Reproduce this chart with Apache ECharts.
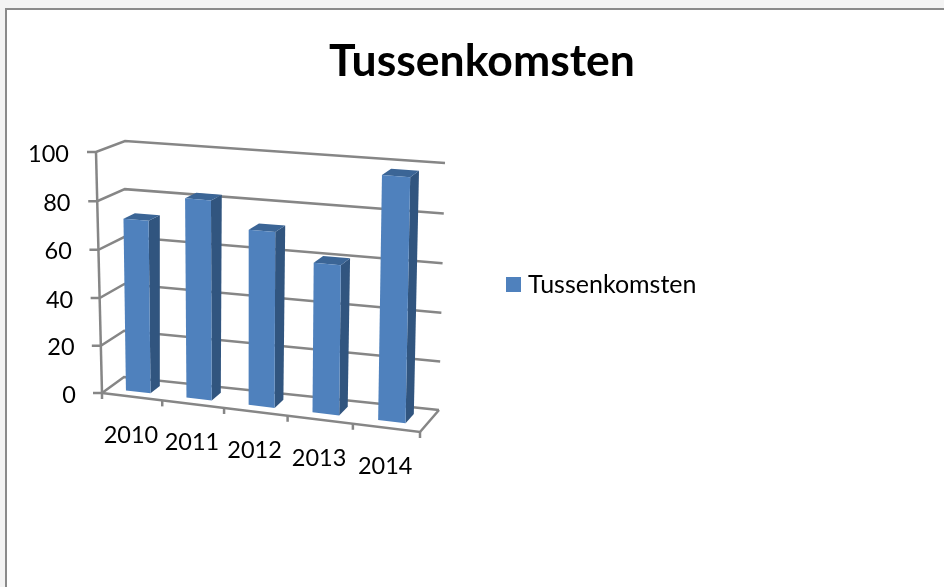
<!DOCTYPE html>
<html lang="en">
<head>
    <meta charset="UTF-8">
    <title>Tussenkomsten</title>
    <script src="https://cdn.jsdelivr.net/npm/echarts@6/dist/echarts.min.js"></script>
    <style>
        html, body { margin: 0; padding: 0; background: #fff; }
        #box { width: 944px; height: 587px; }
    </style>
</head>
<body>
    <div id="box"></div>
<script>
    var years = ['2010', '2011', '2012', '2013', '2014'];
    var values = [72, 82.5, 72, 61, 98];
    var yTicks = [0, 20, 40, 60, 80, 100];
    var seriesName = 'Tussenkomsten';

    var font = 'Lato, "Open Sans", sans-serif';
    var lineColor = '#868686';

    // corners of the fake 3D box: F = front, B = back, L/R = left/right, 0/1 = bottom/top
    var box = {
        F0L: [102, 393], F0R: [420, 432], F1L: [96, 152], F1R: [425, 178],
        B0L: [124, 377], B0R: [439, 410], B1L: [125, 141], B1R: [445, 163]
    };

    function mix(a, b, t) {
        return [a[0] + (b[0] - a[0]) * t, a[1] + (b[1] - a[1]) * t];
    }
    // things get bigger to the right and to the top in the original
    function persp(t, k) {
        return t / (k + (1 - k) * t);
    }
    // u along the years, v up the values, d front to back (all 0..1)
    function project(u, v, d) {
        var pu = persp(u, 1.07), pv = persp(v, 1.025);
        var f = mix(mix(box.F0L, box.F0R, pu), mix(box.F1L, box.F1R, pu), pv);
        var b = mix(mix(box.B0L, box.B0R, pu), mix(box.B1L, box.B1R, pu), pv);
        return mix(f, b, d);
    }
    // pixel from the axes -> u, v inside the grid
    function toUV(pt, cs) {
        return [(pt[0] - cs.x) / cs.width, (cs.y + cs.height - pt[1]) / cs.height];
    }
    function line(points) {
        return {
            type: 'polyline',
            shape: { points: points },
            style: { stroke: lineColor, fill: null, lineWidth: 2.5 }
        };
    }
    function poly(points, color) {
        return { type: 'polygon', shape: { points: points }, style: { fill: color } };
    }
    function label(text, x, y, align) {
        return {
            type: 'text',
            style: { text: text, x: x, y: y, align: align, verticalAlign: 'middle', font: '23.5px ' + font, fill: '#000' }
        };
    }

    // walls: one wall line, tick and label per y tick
    function renderWall(params, api) {
        var cs = params.coordSys;
        var v = toUV(api.coord([0, api.value(0)]), cs)[1];
        var front = project(0, v, 0);
        return {
            type: 'group',
            children: [
                line([[front[0] - 9, front[1]], front, project(0, v, 1), project(1, v, 1)]),
                label(String(api.value(0)), 69 + (1 - v) * 7, front[1] + 2, 'right')
            ]
        };
    }

    // floor: front edge ticks and the year labels
    function renderFloor(params, api) {
        var cs = params.coordSys;
        var i = api.value(0);
        var band = api.size([1, 0])[0];
        var u = toUV([api.coord([i, 0])[0] - band / 2, 0], cs)[0];
        var um = u + band / 2 / cs.width;
        var tick = project(um + band / 2 / cs.width, 0, 0);
        var mid = project(um, 0, 0);
        var children = [
            line([tick, [tick[0], tick[1] + 6]]),
            label(years[i], mid[0] - 1, mid[1] + 38.5, 'center')
        ];
        if (i === 0) {
            var start = project(0, 0, 0);
            children.push(line([start, [start[0], start[1] + 6]]));
            children.push(line([start, project(0, 1, 0)]));
            children.push(line([start, project(1, 0, 0), project(1, 0, 1)]));
        }
        return { type: 'group', children: children };
    }

    function renderBar(params, api) {
        var cs = params.coordSys;
        var i = api.value(0);
        var pt = api.coord([i, api.value(1)]);
        var band = api.size([1, 0])[0];
        var uv = toUV(pt, cs);
        var half = 0.205 * band / cs.width;
        var u0 = uv[0] - half, u1 = uv[0] + half, v = uv[1];
        var d0 = 0.29, d1 = 0.72;
        return {
            type: 'group',
            children: [
                poly([project(u1, 0, d0), project(u1, 0, d1), project(u1, v, d1), project(u1, v, d0)], '#31557f'),
                poly([project(u0, v, d0), project(u1, v, d0), project(u1, v, d1), project(u0, v, d1)], '#3b6596'),
                poly([project(u0, 0, d0), project(u1, 0, d0), project(u1, v, d0), project(u0, v, d0)], '#4f81bd')
            ]
        };
    }

    var mEcharts = echarts.init(document.querySelector('#box'));
    var option = {
        animation: false,
        backgroundColor: '#f3f3f3',
        title: {
            text: 'Tussenkomsten',
            left: 477,
            top: 34,
            textAlign: 'center',
            textStyle: { fontFamily: font, fontSize: 44.5, fontWeight: 'bold', color: '#000' }
        },
        legend: {
            left: 501,
            top: 267,
            icon: 'rect',
            itemWidth: 15,
            itemHeight: 15,
            itemGap: 0,
            data: [seriesName],
            textStyle: { fontFamily: font, fontSize: 25, color: '#000', padding: [0, 0, 0, 2] }
        },
        graphic: [{
            type: 'rect',
            z: -1,
            shape: { x: 6, y: 9, width: 1100, height: 800 },
            style: { fill: '#fff', stroke: '#8a8a8a', lineWidth: 2 }
        }],
        grid: { left: 96, top: 152, width: 318, height: 241 },
        xAxis: { type: 'category', data: years, show: false },
        yAxis: { type: 'value', min: 0, max: 100, interval: 20, show: false },
        series: [{
            type: 'custom',
            name: 'walls',
            silent: true,
            clip: false,
            renderItem: renderWall,
            encode: { y: 0 },
            data: yTicks.map(function (t) { return [t]; }),
            z: 1
        }, {
            type: 'custom',
            name: 'floor',
            silent: true,
            clip: false,
            renderItem: renderFloor,
            encode: { x: 0 },
            data: years.map(function (y, i) { return [i]; }),
            z: 1
        }, {
            type: 'custom',
            name: seriesName,
            silent: true,
            clip: false,
            renderItem: renderBar,
            encode: { x: 0, y: 1 },
            itemStyle: { color: '#4f81bd' },
            data: values.map(function (v, i) { return [i, v]; }),
            z: 2
        }]
    };
    mEcharts.setOption(option);
</script>
</body>
</html>
